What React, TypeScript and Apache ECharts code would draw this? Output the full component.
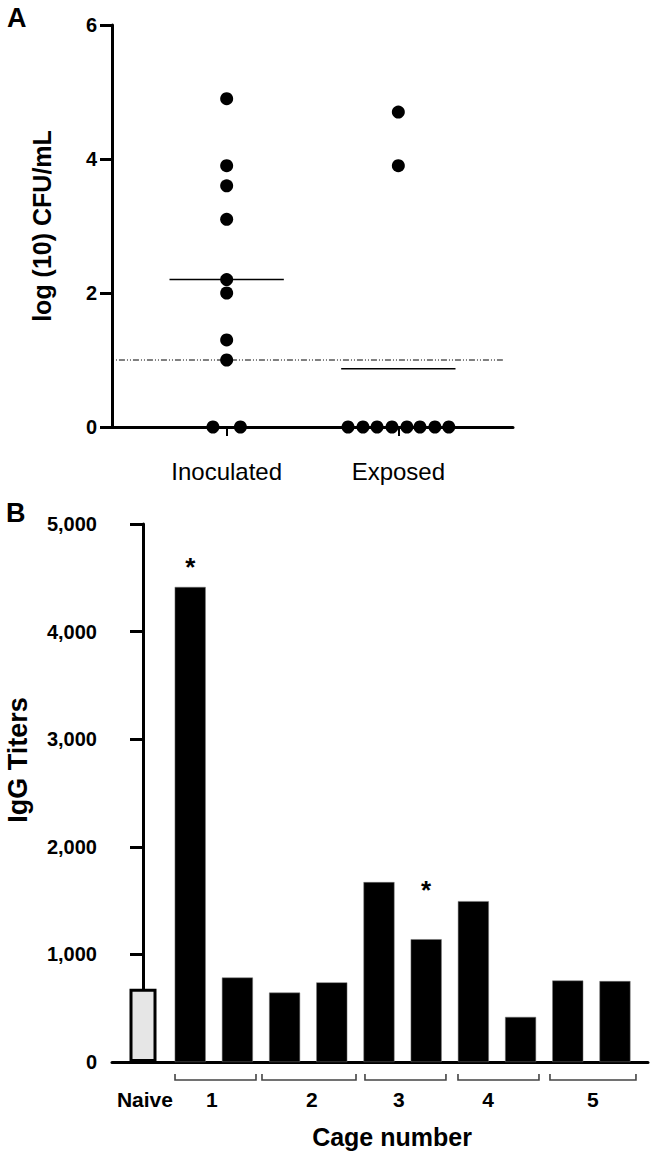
import React, { useEffect, useRef } from "react";
import * as echarts from "echarts";

// ---------- Panel A data ----------
const groupNames = ["Inoculated", "Exposed"];
const groupPos = [1, 2];
const inoculatedY = [4.9, 3.9, 3.6, 3.1, 2.2, 2.0, 1.3, 1.0, 0, 0];
const inoculatedX = [1, 1, 1, 1, 1, 1, 1, 1, 0.92, 1.08];
const exposedY = [4.7, 3.9, 0, 0, 0, 0, 0, 0, 0, 0];
const exposedX = [2, 2, 1.707, 1.794, 1.876, 1.963, 2.05, 2.126, 2.213, 2.294];
const medians = [2.2, 0.87];
const detectionLimit = 1.0;
const detectionSpan = [0.291, 2.609];
const yTicksA = [0, 2, 4, 6];

// ---------- Panel B data ----------
const naiveTiter = 680;
const barPos = [1, 2, 3, 4, 5, 6, 7, 8, 9, 10];
const cageTiters = [4415, 785, 645, 740, 1672, 1141, 1495, 419, 757, 752];
const groupLabels = ["Naive", "1", "2", "3", "4", "5"];
const groupLabelPos = [0.04, 1.46, 3.58, 5.42, 7.31, 9.53];
const bracketStart = [0.678, 2.521, 4.703, 6.674, 8.623];
const bracketEnd = [2.394, 4.513, 6.419, 8.39, 10.445];
const sigPos = [1, 6];
const sigY = [4600, 1598];
const yTicksB = [0, 1000, 2000, 3000, 4000, 5000];

const FONT = "'Liberation Sans', Arial, Helvetica, sans-serif";

export default function App() {
  const ref = useRef<HTMLDivElement>(null);
  useEffect(() => {
    if (!ref.current) return;
    const chart = echarts.init(ref.current, null, { renderer: "svg" });
    const medianHalf = 0.333;
    const axisLine = { show: true, lineStyle: { color: "#000", width: 3 } };
    const option: any = {
      animation: false,
      backgroundColor: "#fff",
      textStyle: { fontFamily: FONT },
      grid: [
        { left: 112, top: 25, width: 401, height: 402 },
        { left: 112, top: 524, width: 536, height: 538 },
      ],
      xAxis: [
        {
          gridIndex: 0,
          type: "value",
          position: "bottom",
          min: 0.332,
          max: 2.668,
          axisLine,
          splitLine: { show: false },
          axisTick: { show: true, customValues: groupPos, length: 9, lineStyle: { color: "#000", width: 2 } },
          axisLabel: {
            customValues: groupPos,
            formatter: (v: number) => groupNames[groupPos.indexOf(v)] ?? "",
            fontSize: 24,
            color: "#000",
            fontFamily: FONT,
            margin: 32,
          },
        },
        {
          gridIndex: 1,
          type: "value",
          position: "bottom",
          min: -0.657,
          max: 10.7,
          axisLine,
          splitLine: { show: false },
          axisTick: { show: false },
          axisLabel: { show: false },
        },
        {
          gridIndex: 1,
          type: "value",
          position: "bottom",
          offset: 0,
          min: -0.657,
          max: 10.7,
          axisLine: { show: false },
          splitLine: { show: false },
          axisTick: { show: false },
          axisLabel: {
            customValues: groupLabelPos,
            formatter: (v: number) => {
              let best = 0;
              groupLabelPos.forEach((p, i) => {
                if (Math.abs(p - v) < Math.abs(groupLabelPos[best] - v)) best = i;
              });
              return groupLabels[best];
            },
            fontSize: 21,
            fontWeight: "bold",
            color: "#000",
            fontFamily: FONT,
            margin: 27,
          },
        },
      ],
      yAxis: [
        {
          gridIndex: 0,
          type: "value",
          min: 0,
          max: 6,
          interval: 2,
          axisLine,
          splitLine: { show: false },
          axisTick: { show: true, length: 12, lineStyle: { color: "#000", width: 3 } },
          axisLabel: { fontSize: 20, fontWeight: "bold", color: "#000", fontFamily: FONT, margin: 15 },
        },
        {
          gridIndex: 1,
          type: "value",
          min: 0,
          max: 5000,
          interval: 1000,
          axisLine,
          splitLine: { show: false },
          axisTick: { show: true, length: 13, lineStyle: { color: "#000", width: 3 } },
          axisLabel: {
            fontSize: 20,
            fontWeight: "bold",
            color: "#000",
            fontFamily: FONT,
            margin: 15,
            formatter: (v: number) => v.toLocaleString("en-US"),
          },
        },
      ],
      series: [
        {
          type: "line",
          xAxisIndex: 0,
          yAxisIndex: 0,
          data: detectionSpan.map((x) => [x, detectionLimit]),
          symbol: "none",
          clip: false,
          lineStyle: { color: "#000", width: 1, type: [6, 2, 1, 2, 1, 2] },
          z: 1,
        },
        ...medians.map((m, i) => ({
          type: "line",
          xAxisIndex: 0,
          yAxisIndex: 0,
          data: [
            [groupPos[i] - medianHalf, m],
            [groupPos[i] + medianHalf, m],
          ],
          symbol: "none",
          lineStyle: { color: "#000", width: 1.5 },
          z: 2,
        })),
        {
          type: "scatter",
          name: groupNames[0],
          xAxisIndex: 0,
          yAxisIndex: 0,
          data: inoculatedY.map((y, i) => [inoculatedX[i], y]),
          symbolSize: 13,
          clip: false,
          itemStyle: { color: "#000", opacity: 1 },
          z: 5,
        },
        {
          type: "scatter",
          name: groupNames[1],
          xAxisIndex: 0,
          yAxisIndex: 0,
          data: exposedY.map((y, i) => [exposedX[i], y]),
          symbolSize: 13,
          clip: false,
          itemStyle: { color: "#000", opacity: 1 },
          z: 5,
        },
        {
          type: "bar",
          xAxisIndex: 1,
          yAxisIndex: 1,
          data: cageTiters.map((v, i) => [barPos[i], v]),
          barWidth: 31,
          itemStyle: { color: "#000", borderColor: "#777", borderWidth: 0.5 },
        },
        {
          type: "bar",
          xAxisIndex: 2,
          yAxisIndex: 1,
          data: [[0, naiveTiter]],
          barWidth: 27,
          itemStyle: { color: "#e6e6e6", borderColor: "#000", borderWidth: 3 },
        },
        {
          type: "custom",
          xAxisIndex: 1,
          yAxisIndex: 1,
          clip: false,
          data: bracketStart.map((s, i) => [s, bracketEnd[i], 0]),
          encode: { x: [0, 1], y: 2 },
          renderItem: (params: any, api: any) => {
            const s = api.coord([api.value(0), 0]);
            const e = api.coord([api.value(1), 0]);
            return {
              type: "polyline",
              shape: {
                points: [
                  [s[0], s[1] + 12],
                  [s[0], s[1] + 18],
                  [e[0], e[1] + 18],
                  [e[0], e[1] + 12],
                ],
              },
              style: { stroke: "#444", lineWidth: 1.6, fill: null },
            };
          },
        },
        {
          type: "scatter",
          xAxisIndex: 1,
          yAxisIndex: 1,
          data: sigPos.map((x, i) => [x, sigY[i]]),
          symbolSize: 1,
          itemStyle: { color: "rgba(0,0,0,0)", opacity: 1 },
          label: {
            show: true,
            position: "inside",
            formatter: "*",
            fontSize: 26,
            fontWeight: "bold",
            color: "#000",
            opacity: 1,
            fontFamily: FONT,
          },
        },
      ],
      graphic: [
        { type: "text", x: 7, y: 17.6, style: { text: "A", font: `bold 27px ${FONT}`, fill: "#000", textVerticalAlign: "middle" } },
        { type: "text", x: 6, y: 512.6, style: { text: "B", font: `bold 27px ${FONT}`, fill: "#000", textVerticalAlign: "middle" } },
        {
          type: "text",
          x: 42,
          y: 226,
          rotation: Math.PI / 2,
          style: { text: "log (10) CFU/mL", font: `bold 25px ${FONT}`, fill: "#000", textAlign: "center", textVerticalAlign: "middle" },
        },
        {
          type: "text",
          x: 18,
          y: 760,
          rotation: Math.PI / 2,
          style: { text: "IgG Titers", font: `bold 27px ${FONT}`, fill: "#000", textAlign: "center", textVerticalAlign: "middle" },
        },
        {
          type: "text",
          x: 392,
          y: 1137,
          style: { text: "Cage number", font: `bold 25px ${FONT}`, fill: "#000", textAlign: "center", textVerticalAlign: "middle" },
        },
      ],
    };
    chart.setOption(option);
    return () => chart.dispose();
  }, []);
  return <div ref={ref} style={{ position: "absolute", left: 0, top: 0, width: 654, height: 1159 }} />;
}
